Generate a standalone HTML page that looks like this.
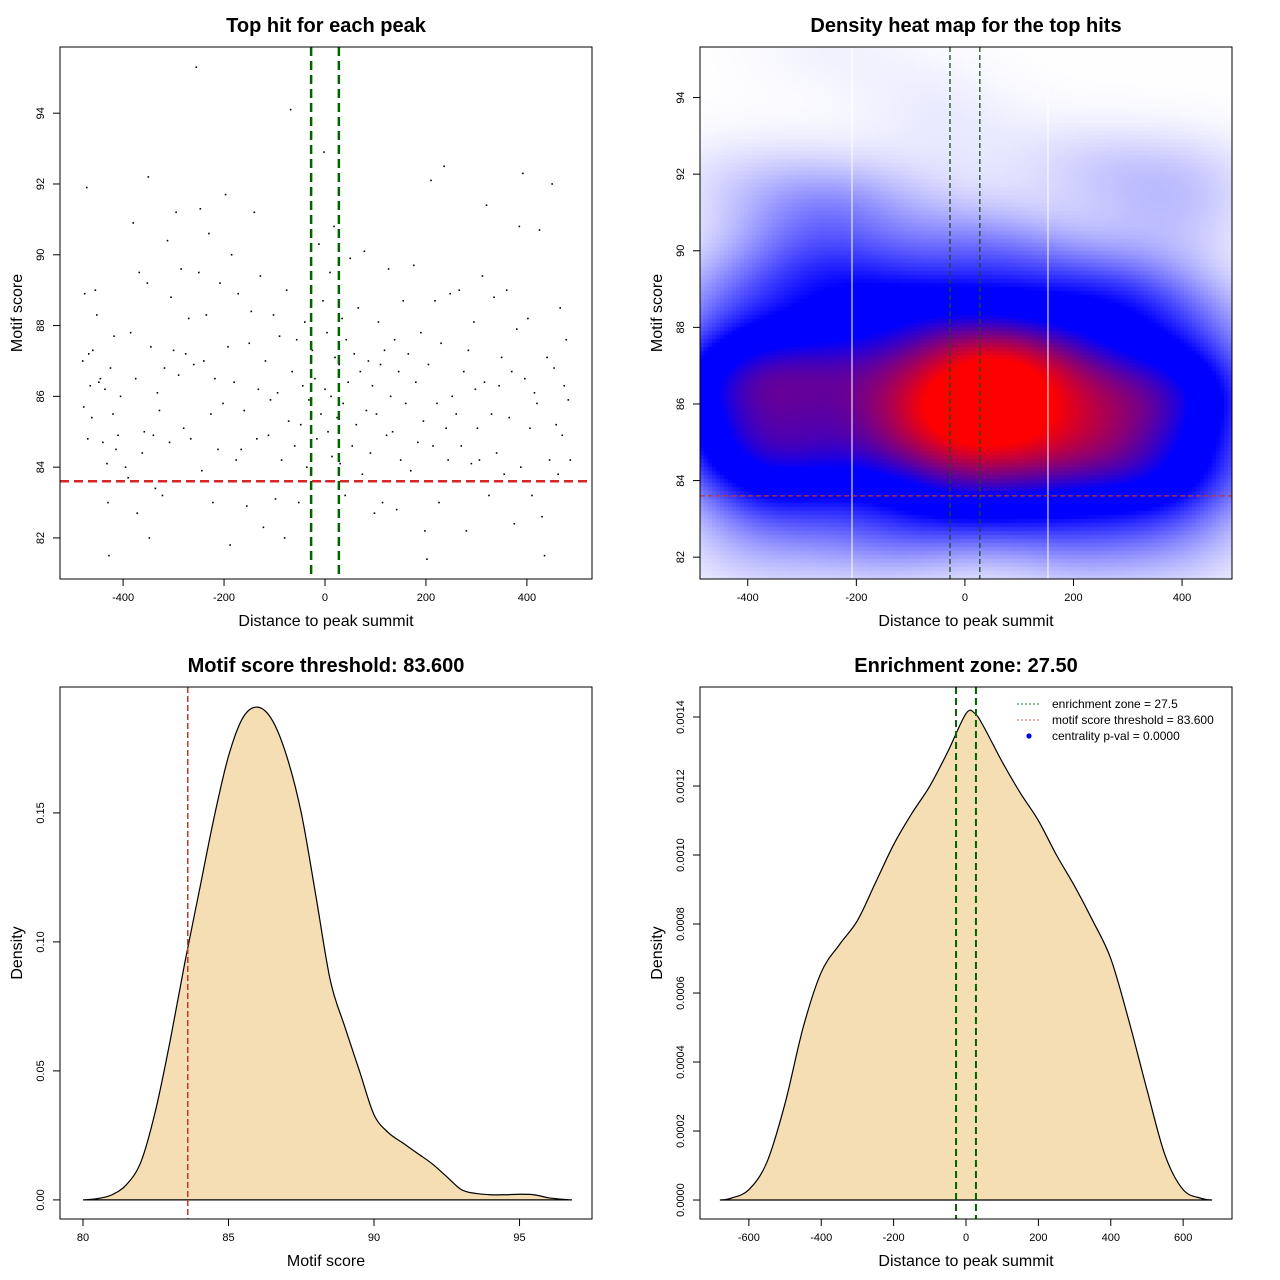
<!DOCTYPE html>
<html><head><meta charset="utf-8">
<style>
html,body{margin:0;padding:0;background:#fff;}
svg text{font-family:"Liberation Sans",Arial,sans-serif;fill:#000;}
#wrap{position:relative;width:1280px;height:1280px;}
#heat{position:absolute;left:700px;top:47px;}
#ov{position:absolute;left:0;top:0;}
</style></head>
<body>
<div id="wrap">
<canvas id="heat" width="532" height="532"></canvas>
<svg id="ov" width="1280" height="1280" xmlns="http://www.w3.org/2000/svg"></svg>
</div>
<script>
// ---- data ----
const distance = [-480,-478,-476,-472,-470,-468,-465,-462,-460,-455,-452,-448,-445,-440,-436,-432,-430,-428,-425,-420,-418,-414,-410,-405,
-395,-390,-385,-380,-375,-372,-368,-362,-358,-352,-350,-348,-345,-340,-336,-332,-328,-322,-318,-312,-308,-305,-300,
-295,-290,-285,-280,-276,-270,-266,-260,-255,-250,-247,-244,-240,-235,-230,-226,-222,-218,-212,-208,-202,-197,-192,-188,
-185,-180,-176,-172,-166,-160,-155,-150,-146,-140,-135,-132,-128,-122,-118,-112,-108,-102,-98,-94,-90,-86,
-80,-76,-72,-68,-65,-60,-56,-52,-48,-44,-40,-36,-32,-28,-25,-20,-16,-12,-8,-4,-2,0,2,4,6,
10,12,14,18,20,24,28,30,34,36,40,42,46,50,54,58,62,66,70,74,78,82,86,90,94,98,
102,106,110,114,118,122,126,130,134,138,142,146,150,155,160,165,170,176,180,184,190,195,198,
202,205,210,214,218,222,226,230,236,240,244,248,252,256,260,266,270,275,280,284,290,295,298,
302,306,312,316,320,325,330,335,340,345,350,355,360,365,370,375,380,385,388,392,396,
402,406,410,415,420,425,430,435,440,445,450,454,458,462,466,470,474,478,482,486];
const score = [87.0,85.7,88.9,91.9,84.8,87.2,86.3,85.4,87.3,89.0,88.3,86.4,86.5,84.7,86.2,84.1,83.0,81.5,86.8,85.5,87.7,84.5,84.9,86.0,
84.0,83.7,87.8,90.9,86.5,82.7,89.5,84.4,85.0,89.2,92.2,82.0,87.4,84.9,83.4,86.1,85.6,83.2,86.8,90.4,84.7,88.8,87.3,
91.2,86.6,89.6,85.1,87.2,88.2,84.8,86.9,95.3,89.5,91.3,83.9,87.0,88.3,90.6,85.5,83.0,86.5,84.5,89.2,85.8,91.7,87.4,81.8,
90.0,86.4,84.2,88.9,84.5,85.6,82.9,87.5,88.4,91.2,84.8,86.2,89.4,82.3,87.0,84.9,85.9,88.3,83.1,86.1,87.7,84.2,
82.0,89.0,85.3,94.1,86.7,84.6,87.6,83.0,85.2,86.3,88.1,84.0,85.9,83.4,87.3,86.5,84.8,90.3,85.5,88.7,92.9,86.2,83.6,87.8,85.0,
89.5,86.0,84.3,90.8,87.1,85.4,86.9,84.1,88.2,85.8,83.2,87.6,86.4,89.9,84.6,87.2,85.2,88.5,86.7,83.8,90.1,85.6,87.0,84.4,86.3,82.7,
85.5,88.1,86.9,83.0,87.3,84.9,89.6,86.0,85.0,87.6,82.8,86.7,84.2,88.7,85.8,87.2,83.9,89.7,86.4,84.7,87.8,85.3,82.2,
81.4,86.9,92.1,84.6,88.7,85.8,83.0,87.5,92.5,85.1,84.2,88.9,86.0,83.6,85.5,89.0,84.6,86.7,82.2,87.3,84.1,88.1,86.2,
85.1,84.2,89.4,86.4,91.4,83.2,85.5,88.8,84.4,86.3,87.1,83.8,89.0,85.4,86.7,82.4,87.9,90.8,84.0,92.3,86.5,
88.2,85.1,83.2,86.1,85.8,90.7,82.6,81.5,87.1,84.2,92.0,86.8,85.2,83.8,88.5,84.9,86.3,87.6,85.9,84.2];
const scoreGrid = [80,80.5,81,81.5,82,82.5,83,83.5,84,84.5,85,85.5,86,86.5,87,87.5,88,88.5,89,89.5,90,90.5,91,91.5,92,92.5,93,93.5,94,94.5,95,95.5,96,96.5,96.8];
const scoreDens = [0,0.0005,0.002,0.006,0.015,0.035,0.062,0.092,0.12,0.148,0.172,0.187,0.191,0.186,0.172,0.15,0.118,0.085,0.067,0.05,0.033,0.026,0.022,0.018,0.014,0.009,0.004,0.0025,0.002,0.002,0.0022,0.002,0.0008,0.0002,0];
const distGrid = [-680,-650,-600,-550,-500,-450,-400,-350,-300,-250,-200,-150,-100,-50,0,25,50,100,150,200,250,300,350,400,450,500,550,600,650,680];
const distDens = [0,0.000005,0.00003,0.00011,0.00028,0.0005,0.00066,0.00074,0.00081,0.00092,0.00103,0.00112,0.0012,0.0013,0.00141,0.00141,0.00137,0.00127,0.00118,0.0011,0.001,0.00091,0.00081,0.0007,0.00052,0.00032,0.00013,0.00003,0.000005,0];
const xTicksDist = [-400,-200,0,200,400];
const yTicksScore = [82,84,86,88,90,92,94];
const xTicksScore = [80,85,90,95];
const yTicksDensA = [0,0.05,0.10,0.15];
const yTicksDensALabels = ["0.00","0.05","0.10","0.15"];
const xTicksDistB = [-600,-400,-200,0,200,400,600];
const yTicksDensB = [0,0.0002,0.0004,0.0006,0.0008,0.001,0.0012,0.0014];
const yTicksDensBLabels = ["0.0000","0.0002","0.0004","0.0006","0.0008","0.0010","0.0012","0.0014"];
const zone = 27.5, threshold = 83.6;

const svg = document.getElementById('ov');
const NS = 'http://www.w3.org/2000/svg';
function el(tag, attrs, parent){const e=document.createElementNS(NS,tag);for(const k in attrs)e.setAttribute(k,attrs[k]);(parent||svg).appendChild(e);return e;}
function mk(box, xr, yr){
  return {box, sx:v=>box.x+(v-xr[0])/(xr[1]-xr[0])*box.w, sy:v=>box.y+box.h-(v-yr[0])/(yr[1]-yr[0])*box.h};
}
function axes(p, xt, xl, yt, yl, title, xtitle, ytitle, pre){
  const b=p.box;
  const g=el('g',{});
  
  
  el('rect',{x:b.x,y:b.y,width:b.w,height:b.h,fill:'none',stroke:'#000','stroke-width':1},g);
  xt.forEach((v,i)=>{const x=p.sx(v);el('line',{x1:x,x2:x,y1:b.y+b.h,y2:b.y+b.h+7,stroke:'#000'},g);
    const t=el('text',{x:x,y:b.y+b.h+22,'font-size':11,'text-anchor':'middle'},g);t.textContent=xl[i];});
  yt.forEach((v,i)=>{const y=p.sy(v);el('line',{x1:b.x,x2:b.x-7,y1:y,y2:y,stroke:'#000'},g);
    const t=el('text',{x:b.x-16,y:y,'font-size':11,'text-anchor':'middle',transform:`rotate(-90 ${b.x-16} ${y})`},g);t.textContent=yl[i];});
  const tt=el('text',{x:b.x+b.w/2,y:b.y-15,'font-size':20,'font-weight':'bold','text-anchor':'middle'});
  
  
  tt.textContent=title;
  const xa=el('text',{x:b.x+b.w/2,y:b.y+b.h+47,'font-size':16,'text-anchor':'middle'});
  
  
  xa.textContent=xtitle;
  const yx=b.x-38, yy=b.y+b.h/2;
  const ya=el('text',{x:yx,y:yy,'font-size':16,'text-anchor':'middle',transform:`rotate(-90 ${yx} ${yy})`});
  
  
  ya.textContent=ytitle;
}
function vline(p,v,color,w,dash,name){const b=p.box;const l=el('line',{x1:p.sx(v),x2:p.sx(v),y1:b.y,y2:b.y+b.h,stroke:color,'stroke-width':w,'stroke-dasharray':dash});
  }
function hline(p,v,color,w,dash,name){const b=p.box;const l=el('line',{x1:b.x,x2:b.x+b.w,y1:p.sy(v),y2:p.sy(v),stroke:color,'stroke-width':w,'stroke-dasharray':dash});
  }

// ---- Panel 1: scatter ----
const p1 = mk({x:60,y:47,w:532,h:532},[-525,529],[80.84,95.87]);
const sg=el('g',{});


distance.forEach((d,i)=>{const c=el('rect',{x:p1.sx(d)-0.8,y:p1.sy(score[i])-0.8,width:1.6,height:1.6,fill:'#000'},sg);
  
  });
vline(p1,-zone,'#006400',2.5,'9,5','zone-line-left');
vline(p1,zone,'#006400',2.5,'9,5','zone-line-right');
hline(p1,threshold,'#d62728',2.5,'9,5','threshold-line');
axes(p1,xTicksDist,xTicksDist.map(String),yTicksScore,yTicksScore.map(String),'Top hit for each peak','Distance to peak summit','Motif score','scatter');

// ---- Panel 2: heatmap ----
const p2 = mk({x:700,y:47,w:532,h:532},[-488,492],[81.43,95.32]);
(function(){
  const cv=document.getElementById('heat'),ctx=cv.getContext('2d');
  const cs=4,n=133,hx=110,hy=0.85;const D=[];let mx=0;
  for(let j=0;j<n;j++)for(let i=0;i<n;i++){
    const xv=-488+(i+0.5)*cs/532*980, yv=95.32-(j+0.5)*cs/532*13.89;let s=0;
    for(let k=0;k<distance.length;k++){const a=(distance[k]-xv)/hx,bb=(score[k]-yv)/hy;s+=Math.exp(-0.5*(a*a+bb*bb));}
    D.push(s);if(s>mx)mx=s;}
  for(let j=0;j<n;j++)for(let i=0;i<n;i++){
    const t=D[j*n+i]/mx;let r,g,b;
    if(t<0.45){const u=Math.pow(t/0.45,1.3);r=255*(1-u);g=255*(1-u);b=255;}
    else if(t<0.6){r=0;g=0;b=255;}
    else{const u=Math.min(1,(t-0.6)/0.3);r=255*u;g=0;b=255*(1-u);}
    ctx.fillStyle=`rgb(${r|0},${g|0},${b|0})`;ctx.fillRect(i*cs,j*cs,cs,cs);}
})();
[-208,153].forEach((v,i)=>{const l=el('line',{x1:p2.sx(v),x2:p2.sx(v),y1:47,y2:579,stroke:'#fff','stroke-width':1});
  });
vline(p2,-zone,'#1a4d1a',1.3,'5,3','heat-zone-line-left');
vline(p2,zone,'#1a4d1a',1.3,'5,3','heat-zone-line-right');
hline(p2,threshold,'#c0392b',1.3,'5,3','heat-threshold-line');
axes(p2,xTicksDist,xTicksDist.map(String),yTicksScore,yTicksScore.map(String),'Density heat map for the top hits','Distance to peak summit','Motif score','heatmap');

// ---- Panel 3: score density ----
const p3 = mk({x:60,y:687,w:532,h:532},[79.21,97.49],[-0.0074,0.1988]);
function densPath(p,xs,ys){let d=`M${p.sx(xs[0])},${p.sy(0)}`;
  const pts=xs.map((x,i)=>[p.sx(x),p.sy(ys[i])]);
  d+=`L${pts[0][0]},${pts[0][1]}`;
  for(let i=0;i<pts.length-1;i++){const p0=pts[Math.max(0,i-1)],a=pts[i],b=pts[i+1],p3_=pts[Math.min(pts.length-1,i+2)];
    d+=`C${a[0]+(b[0]-p0[0])/6},${a[1]+(b[1]-p0[1])/6} ${b[0]-(p3_[0]-a[0])/6},${b[1]-(p3_[1]-a[1])/6} ${b[0]},${b[1]}`;}
  d+=`L${p.sx(xs[xs.length-1])},${p.sy(0)}Z`;return d;}
const a3=el('path',{d:densPath(p3,scoreGrid,scoreDens),fill:'#f5deb3',stroke:'#000','stroke-width':1.2});


vline(p3,threshold,'#c0392b',1.5,'6,3','density-threshold-line');
axes(p3,xTicksScore,xTicksScore.map(String),yTicksDensA,yTicksDensALabels,'Motif score threshold: 83.600','Motif score','Density','score-density');

// ---- Panel 4: distance density ----
const p4 = mk({x:700,y:687,w:532,h:532},[-735,735],[-0.000055,0.001487]);
const a4=el('path',{d:densPath(p4,distGrid,distDens),fill:'#f5deb3',stroke:'#000','stroke-width':1.2});


vline(p4,-zone,'#006400',2,'7,4','enrich-zone-line-left');
vline(p4,zone,'#006400',2,'7,4','enrich-zone-line-right');
axes(p4,xTicksDistB,xTicksDistB.map(String),yTicksDensB,yTicksDensBLabels,'Enrichment zone: 27.50','Distance to peak summit','Density','distance-density');
const lg=el('g',{});


const items=[['dot','#1a7a1a','enrichment zone = 27.5'],['dot','#e55','motif score threshold = 83.600'],['pt','#00f','centrality p-val = 0.0000']];
items.forEach((it,i)=>{const y=704+i*16;
  const e=el('g',{},lg);
  
  
  if(it[0]==='dot')el('line',{x1:1017,x2:1041,y1:y,y2:y,stroke:it[1],'stroke-width':1,'stroke-dasharray':'2,2'},e);
  else el('circle',{cx:1029,cy:y,r:2.6,fill:it[1]},e);
  const t=el('text',{x:1052,y:y+4,'font-size':12},e);t.textContent=it[2];});
</script>
</body></html>
